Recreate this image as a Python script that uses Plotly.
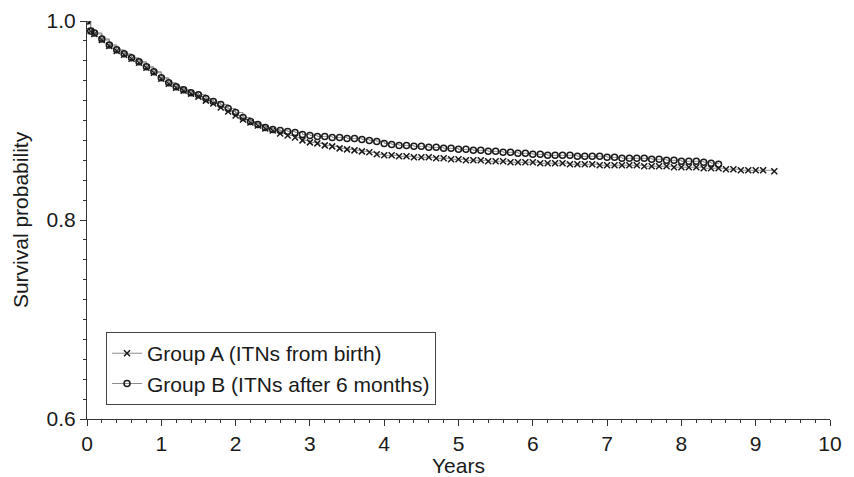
import plotly.graph_objects as go

# Group A (ITNs from birth)
years_a = [0, 0.05, 0.1, 0.2, 0.3, 0.4, 0.5, 0.6, 0.7, 0.8, 0.9, 1.0, 1.1, 1.2, 1.3, 1.4,
           1.5, 1.6, 1.7, 1.8, 1.9, 2.0, 2.1, 2.2, 2.3, 2.4, 2.5, 2.6, 2.7, 2.8, 2.9, 3.0,
           3.1, 3.2, 3.3, 3.4, 3.5, 3.6, 3.7, 3.8, 3.9, 4.0, 4.1, 4.2, 4.3, 4.4, 4.5, 4.6,
           4.7, 4.8, 4.9, 5.0, 5.1, 5.2, 5.3, 5.4, 5.5, 5.6, 5.7, 5.8, 5.9, 6.0, 6.1, 6.2,
           6.3, 6.4, 6.5, 6.6, 6.7, 6.8, 6.9, 7.0, 7.1, 7.2, 7.3, 7.4, 7.5, 7.6, 7.7, 7.8,
           7.9, 8.0, 8.1, 8.2, 8.3, 8.4, 8.5, 8.6, 8.7, 8.8, 8.9, 9.0, 9.1, 9.25]
surv_a = [1.0, 0.990, 0.987, 0.981, 0.975, 0.970, 0.966, 0.962, 0.958, 0.953, 0.948, 0.942,
          0.937, 0.933, 0.930, 0.927, 0.924, 0.920, 0.917, 0.913, 0.909, 0.905, 0.901,
          0.898, 0.895, 0.892, 0.890, 0.887, 0.885, 0.883, 0.880, 0.878, 0.877, 0.875,
          0.874, 0.872, 0.871, 0.870, 0.869, 0.868, 0.866, 0.865, 0.865, 0.864, 0.864,
          0.863, 0.863, 0.863, 0.862, 0.862, 0.861, 0.861, 0.860, 0.860, 0.860, 0.859,
          0.859, 0.859, 0.858, 0.858, 0.858, 0.858, 0.857, 0.857, 0.857, 0.857, 0.856,
          0.856, 0.856, 0.856, 0.855, 0.855, 0.855, 0.855, 0.855, 0.855, 0.854, 0.854,
          0.854, 0.854, 0.853, 0.853, 0.853, 0.853, 0.852, 0.852, 0.852, 0.851, 0.851,
          0.850, 0.850, 0.850, 0.850, 0.849]

# Group B (ITNs after 6 months)
years_b = [0, 0.05, 0.1, 0.2, 0.3, 0.4, 0.5, 0.6, 0.7, 0.8, 0.9, 1.0, 1.1, 1.2, 1.3, 1.4,
           1.5, 1.6, 1.7, 1.8, 1.9, 2.0, 2.1, 2.2, 2.3, 2.4, 2.5, 2.6, 2.7, 2.8, 2.9, 3.0,
           3.1, 3.2, 3.3, 3.4, 3.5, 3.6, 3.7, 3.8, 3.9, 4.0, 4.1, 4.2, 4.3, 4.4, 4.5, 4.6,
           4.7, 4.8, 4.9, 5.0, 5.1, 5.2, 5.3, 5.4, 5.5, 5.6, 5.7, 5.8, 5.9, 6.0, 6.1, 6.2,
           6.3, 6.4, 6.5, 6.6, 6.7, 6.8, 6.9, 7.0, 7.1, 7.2, 7.3, 7.4, 7.5, 7.6, 7.7, 7.8,
           7.9, 8.0, 8.1, 8.2, 8.3, 8.4, 8.5]
surv_b = [1.0, 0.990, 0.988, 0.982, 0.976, 0.971, 0.967, 0.963, 0.959, 0.954, 0.949, 0.943,
          0.938, 0.934, 0.931, 0.928, 0.926, 0.922, 0.919, 0.916, 0.912, 0.908, 0.903,
          0.899, 0.896, 0.893, 0.891, 0.890, 0.889, 0.888, 0.886, 0.885, 0.884, 0.884,
          0.883, 0.883, 0.882, 0.882, 0.881, 0.880, 0.879, 0.877, 0.876, 0.875, 0.875,
          0.874, 0.874, 0.873, 0.873, 0.872, 0.872, 0.871, 0.871, 0.870, 0.870, 0.869,
          0.869, 0.868, 0.868, 0.867, 0.867, 0.866, 0.866, 0.865, 0.865, 0.865, 0.865,
          0.864, 0.864, 0.864, 0.864, 0.863, 0.863, 0.862, 0.862, 0.862, 0.862, 0.861,
          0.861, 0.860, 0.860, 0.859, 0.859, 0.859, 0.858, 0.857, 0.856]

x_ticks = [0, 1, 2, 3, 4, 5, 6, 7, 8, 9, 10]
y_ticks = [0.6, 0.8, 1.0]

FONT = "Liberation Sans, Arial, sans-serif"
INK = "#1a1a1a"

fig = go.Figure()
fig.add_trace(go.Scatter(
    x=years_a, y=surv_a, mode="lines+markers", line_shape="hv",
    name="Group A (ITNs from birth)",
    line=dict(color="#8c8c8c", width=1),
    marker=dict(symbol="x-thin", size=6, line=dict(color=INK, width=1.5), color=INK),
))
fig.add_trace(go.Scatter(
    x=years_b, y=surv_b, mode="lines+markers", line_shape="hv",
    name="Group B (ITNs after 6 months)",
    line=dict(color="#8c8c8c", width=1),
    marker=dict(symbol="circle-open", size=6, line=dict(color=INK, width=1.5), color=INK),
))

# page body has an 8px margin, so the figure is sized to fit the 854x477 window
fig.update_layout(
    width=846, height=469,
    margin=dict(l=79, r=24, t=13, b=58, autoexpand=False),
    plot_bgcolor="white", paper_bgcolor="white",
    font=dict(family=FONT, size=21, color=INK),
    showlegend=True,
    legend=dict(
        x=0.0256, y=0.035, xanchor="left", yanchor="bottom",
        bordercolor="#444444", borderwidth=1, bgcolor="white",
        font=dict(family=FONT, size=21, color=INK),
        tracegroupgap=0, itemwidth=30,
    ),
)
fig.update_xaxes(
    range=[0, 10], tickvals=x_ticks, ticktext=[str(v) for v in x_ticks],
    showline=True, linecolor="#333333", linewidth=1.2, showgrid=False, zeroline=False,
    ticks="outside", ticklen=6, tickcolor="#333333", automargin=False,
    ticklabeloverflow="allow",
    minor=dict(dtick=0.2, ticks="outside", ticklen=3, tickcolor="#333333", showgrid=False),
    title=dict(text="Years", standoff=3, font=dict(size=21)),
    tickfont=dict(size=21),
)
fig.update_yaxes(
    range=[0.6, 1.0], tickvals=y_ticks, ticktext=["0.6", "0.8", "1.0"],
    showline=True, linecolor="#333333", linewidth=1.2, showgrid=False, zeroline=False,
    ticks="outside", ticklen=6, tickcolor="#333333", automargin=False,
    ticklabeloverflow="allow",
    minor=dict(dtick=0.02, ticks="outside", ticklen=3, tickcolor="#333333", showgrid=False),
    title=dict(text="Survival probability", standoff=12, font=dict(size=21)),
    tickfont=dict(size=21),
)

fig.write_html("out.html")
